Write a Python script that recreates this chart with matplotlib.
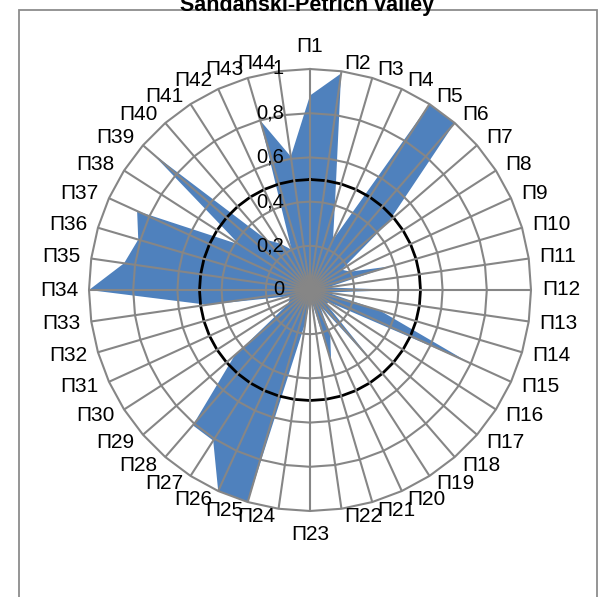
import numpy as np
import matplotlib
matplotlib.use("Agg")
import matplotlib.pyplot as plt
from matplotlib.patches import Rectangle, Polygon

plt.rcParams['font.family'] = ['Liberation Sans', 'DejaVu Sans']

title = "Sandanski-Petrich valley"
categories = ["П%d" % i for i in range(1, 45)]
values = [0.88, 0.99, 0.40, 0.25, 1.00, 1.00, 0.47, 0.17, 0.20, 0.38,
          0.08, 0.41, 0.08, 0.33, 0.79, 0.10, 0.10, 0.47, 0.08, 0.22,
          0.34, 0.05, 0.05, 0.15, 1.00, 1.00, 0.81, 0.81, 0.45, 0.12,
          0.10, 0.10, 0.47, 1.00, 0.85, 0.81, 0.86, 0.38, 0.95, 0.30,
          0.25, 0.20, 0.80, 0.61]
ref_level = 0.5
ring_levels = [0.2, 0.4, 0.6, 0.8, 1.0]
ring_labels = ["0", "0,2", "0,4", "0,6", "0,8", "1"]

W, H = 601, 597
DPI = 100
fig = plt.figure(figsize=(W / DPI, H / DPI), dpi=DPI)
fig.patch.set_facecolor('white')

cx, cy, R = 310, 290, 221.0
span = 1.2
half_px = R * span
ax = fig.add_axes([(cx - half_px) / W, (H - cy - half_px) / H,
                   2 * half_px / W, 2 * half_px / H])
ax.set_xlim(-span, span)
ax.set_ylim(-span, span)
ax.set_aspect('equal')
ax.axis('off')

n = len(categories)
theta = np.arange(n) * 2 * np.pi / n
sx, cyy = np.sin(theta), np.cos(theta)

def xy(r):
    r = np.asarray(r, dtype=float)
    return r * sx, r * cyy

grid_col = '#868686'
vx, vy = xy(values)
ax.add_patch(Polygon(np.column_stack([vx, vy]), closed=True,
                     facecolor='#4F81BD', edgecolor='none', zorder=1))
rx, ry = xy(np.full(n, ref_level))
ax.plot(np.append(rx, rx[0]), np.append(ry, ry[0]), color='black', lw=2.0, zorder=2)
for lv in ring_levels:
    gx, gy = xy(np.full(n, lv))
    ax.plot(np.append(gx, gx[0]), np.append(gy, gy[0]), color=grid_col, lw=1.5, zorder=3)
for s, c in zip(sx, cyy):
    ax.plot([0, s], [0, c], color=grid_col, lw=1.5, zorder=3, solid_capstyle='butt')

levels_all = [0.0] + ring_levels
for lv, lab in zip(levels_all, ring_labels):
    ax.annotate(lab, xy=(0, lv), xytext=(-26, 0), textcoords='offset pixels',
                ha='right', va='center', fontsize=14.5, color='black', zorder=5)

fs = 15
anns = []
for lab, s, c in zip(categories, sx, cyy):
    a = ax.annotate(lab, xy=(s, c), xytext=(0, 0), textcoords='offset pixels',
                    ha='center', va='center', fontsize=fs, color='black', zorder=5,
                    annotation_clip=False)
    anns.append((a, s, c))
fig.canvas.draw()
rend = fig.canvas.get_renderer()
for a, s, c in anns:
    bb = a.get_window_extent(rend)
    w = bb.width
    if abs(s) < 0.05:
        dx = 0
        dy = 22 if c > 0 else -24
    else:
        gap = 2 + 9 * abs(s)
        dx = np.sign(s) * (w / 2 + gap)
        dy = np.sign(c) * min(8.0, 12 * abs(c))
    a.xyann = (dx, dy)

fig.patches.append(Rectangle((19 / W, -0.05), (597 - 19) / W, 1 - 10 / H + 0.05,
                             transform=fig.transFigure, fill=False,
                             edgecolor='#8c8c8c', lw=1.3))
fig.text(307 / W, 1 - 11 / H, title, ha='center', va='baseline',
         fontsize=15.5, fontweight='bold')

fig.savefig('out.png', dpi=DPI)
